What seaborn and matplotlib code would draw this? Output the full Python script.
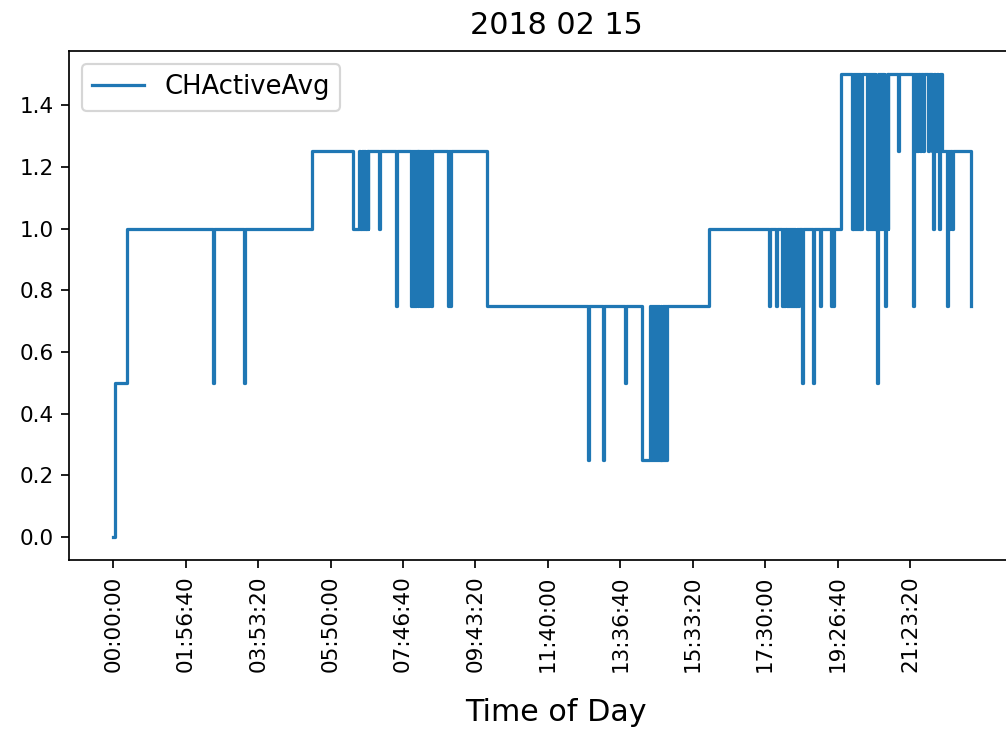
import numpy as np
import pandas as pd
import matplotlib
matplotlib.use("Agg")
import matplotlib.pyplot as plt
import seaborn as sns

# ---- data (change points: minute of day -> value held from that minute on) ----
change_minutes = [
    0, 3, 21.6, 161, 162.5, 211, 212.5, 320.6,
    386.6, 396, 397.5, 400, 401.5, 404, 405.5, 408, 409.5, 410.8,
    428, 429.5, 455, 456.5,
    479.5, 481, 483, 484.5, 486.5, 488, 490, 491.5, 493.5, 495, 497, 498.5,
    500.5, 502, 504, 505.5, 507.5, 509, 511, 513,
    539, 540.5, 542, 543.5, 601.5,
    765, 766.5, 789, 790.5, 824, 825.5, 852,
    864, 865.5, 867.5, 869, 871, 872.5, 874.5, 876, 878, 879.5, 881.5, 883,
    885, 886.5, 888.5, 890, 892,
    960,
    1056, 1057.5, 1067.5, 1069,
    1077.6, 1079, 1081, 1082.5, 1084.5, 1086, 1088, 1089.5, 1091.5, 1093,
    1095, 1096.5, 1098.5, 1100.8, 1103, 1104.5, 1109, 1110.5,
    1126.6, 1128, 1138.4, 1140, 1156, 1157.5, 1159, 1160.5,
    1171.7,
    1189.4, 1190.8, 1192.2, 1193.6, 1195, 1196.4, 1197.8, 1199.2, 1200.6, 1202,
    1203.4, 1205.5,
    1213.6, 1215, 1216.4, 1217.8, 1219.2, 1220.6, 1222, 1223.4, 1224.8, 1226.2,
    1227.6, 1229.7, 1231, 1232.4, 1233.8, 1235.2, 1236.6, 1238, 1239.4, 1240.8,
    1242, 1243, 1244.5, 1246, 1247.2, 1248.4,
    1264.5, 1266, 1287.7, 1289, 1291, 1292.5, 1295, 1296.5, 1300, 1301.5,
    1304, 1305.5, 1312.8, 1314,
    1318, 1320.4, 1322, 1324, 1326, 1328, 1330, 1331.5, 1334.4,
    1342.4, 1344, 1346, 1347.5, 1351, 1352.5, 1381,
]
active_avg = [
    0.0, 0.5, 1.0, 0.5, 1.0, 0.5, 1.0, 1.25,
    1.0, 1.25, 1.0, 1.25, 1.0, 1.25, 1.0, 1.25, 1.0, 1.25,
    1.0, 1.25, 0.75, 1.25,
    0.75, 1.25, 0.75, 1.25, 0.75, 1.25, 0.75, 1.25, 0.75, 1.25, 0.75, 1.25,
    0.75, 1.25, 0.75, 1.25, 0.75, 1.25, 0.75, 1.25,
    0.75, 1.25, 0.75, 1.25, 0.75,
    0.25, 0.75, 0.25, 0.75, 0.5, 0.75, 0.25,
    0.75, 0.25, 0.75, 0.25, 0.75, 0.25, 0.75, 0.25, 0.75, 0.25, 0.75, 0.25,
    0.75, 0.25, 0.75, 0.25, 0.75,
    1.0,
    0.75, 1.0, 0.75, 1.0,
    0.75, 1.0, 0.75, 1.0, 0.75, 1.0, 0.75, 1.0, 0.75, 1.0,
    0.75, 1.0, 0.75, 1.0, 0.75, 1.0, 0.5, 1.0,
    0.5, 1.0, 0.75, 1.0, 0.75, 1.0, 0.75, 1.0,
    1.5,
    1.0, 1.5, 1.0, 1.5, 1.0, 1.5, 1.0, 1.5, 1.0, 1.5,
    1.0, 1.5,
    1.0, 1.5, 1.0, 1.5, 1.0, 1.5, 1.0, 1.5, 1.0, 1.5,
    1.0, 0.5, 1.0, 1.5, 1.0, 1.5, 1.0, 1.5, 1.0, 1.5,
    1.0, 0.75, 1.0, 1.5, 1.0, 1.5,
    1.25, 1.5, 0.75, 1.5, 1.25, 1.5, 1.25, 1.5, 1.25, 1.5,
    1.25, 1.5, 1.25, 1.5,
    1.25, 1.0, 1.5, 1.25, 1.5, 1.25, 1.0, 1.5, 1.25,
    0.75, 1.25, 1.0, 1.25, 1.0, 1.25, 0.75,
]
tick_seconds = [0, 7000, 14000, 21000, 28000, 35000, 42000,
                49000, 56000, 63000, 70000, 77000]
tick_labels = ["00:00:00", "01:56:40", "03:53:20", "05:50:00", "07:46:40",
               "09:43:20", "11:40:00", "13:36:40", "15:33:20", "17:30:00",
               "19:26:40", "21:23:20"]
title = "2018 02 15"

df = pd.DataFrame({"seconds": np.array(change_minutes) * 60.0,
                   "CHActiveAvg": active_avg})

DPI = 155
fig = plt.figure(figsize=(1006 / DPI, 731 / DPI), dpi=DPI)
ax = fig.add_axes([0.0686, 0.2335, 0.9682, 0.6965])

sns.lineplot(data=df, x="seconds", y="CHActiveAvg", drawstyle="steps-post",
             estimator=None, sort=False, color="#1f77b4", linewidth=1.5,
             label="CHActiveAvg", ax=ax)

ax.spines["right"].set_visible(False)
ax.set_xlim(-4281, 89853)
ax.set_ylim(-0.075, 1.575)
ax.set_xticks(tick_seconds)
ax.set_xticklabels(tick_labels, rotation=90, fontsize=10)
ax.set_yticks([0.0, 0.2, 0.4, 0.6, 0.8, 1.0, 1.2, 1.4])
ax.set_yticklabels(["0.0", "0.2", "0.4", "0.6", "0.8", "1.0", "1.2", "1.4"], fontsize=10)
ax.set_xlabel("Time of Day", fontsize=14, labelpad=12)
ax.set_ylabel("")
ax.set_title(title, fontsize=14, pad=8)
ax.legend(loc="upper left", fontsize=12)

fig.savefig("out.png", dpi=DPI)
